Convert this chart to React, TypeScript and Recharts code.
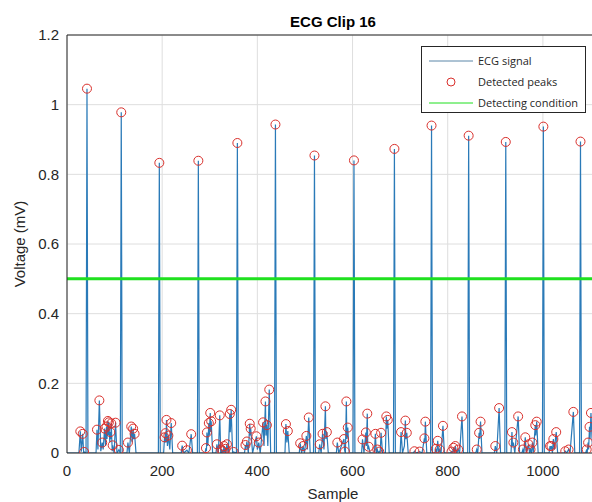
import {
  ComposedChart,
  Line,
  Scatter,
  XAxis,
  YAxis,
  CartesianGrid,
  ReferenceLine,
  Legend,
} from "recharts"

// ECG samples as [sample, voltage] (baseline points included)
const signalPoints: [number, number][] = [
  [0, 0], [25, 0], [28, 0.062], [30, 0.004], [33, 0.055], [35, 0], [36, 0.003], [40, 0], [42, 1.046], [44, 0],
  [61, 0], [63, 0.067], [65, 0.01], [68, 0.151], [71, 0.005], [74, 0.03], [76, 0.01], [79, 0.07], [81, 0.02],
  [83, 0.076], [84, 0.04], [86, 0.092], [87, 0.05], [88, 0.088], [90, 0.03], [91, 0.06], [92, 0.04], [93, 0.085],
  [95, 0.005], [96, 0.022], [99, 0], [102, 0.087], [105, 0], [109, 0.009], [112, 0], [114, 0.978], [116, 0],
  [126, 0], [128, 0.03], [131, 0], [135, 0.076], [137, 0.03], [139, 0.07], [140, 0.04], [142, 0.055], [145, 0],
  [192, 0], [194, 0.833], [196, 0], [203, 0], [205, 0.045], [206, 0.03], [207, 0.057], [208, 0.03], [209, 0.095],
  [211, 0.02], [213, 0.05], [216, 0.01], [219, 0.086], [222, 0], [240, 0], [242, 0.021], [245, 0], [252, 0.008],
  [256, 0], [261, 0.054], [264, 0], [274, 0], [276, 0.839], [278, 0], [290, 0], [292, 0.014], [293, 0.005],
  [294, 0.059], [296, 0.02], [298, 0.086], [299, 0.05], [301, 0.115], [302, 0.06], [303, 0.091], [306, 0],
  [313, 0], [315, 0.025], [318, 0], [321, 0.108], [323, 0], [324, 0.01], [326, 0], [327, 0.005], [328, 0],
  [330, 0.02], [331, 0], [333, 0.012], [334, 0], [336, 0.025], [339, 0], [342, 0.112], [343, 0.06], [345, 0.124],
  [348, 0], [350, 0.003], [356, 0], [358, 0.89], [360, 0], [373, 0], [375, 0.023], [376, 0.01], [378, 0.033],
  [381, 0], [384, 0.084], [385, 0.05], [386, 0.07], [390, 0], [398, 0.048], [400, 0.01], [403, 0.03], [406, 0],
  [412, 0.088], [414, 0.02], [417, 0.148], [418, 0.05], [420, 0.08], [422, 0.02], [425, 0.182], [428, 0],
  [436, 0], [438, 0.943], [440, 0], [458, 0], [460, 0.083], [462, 0.03], [464, 0.063], [467, 0], [488, 0],
  [490, 0.028], [493, 0], [496, 0.02], [499, 0], [503, 0.049], [505, 0.01], [508, 0.102], [511, 0], [518, 0],
  [520, 0.854], [522, 0], [529, 0], [531, 0.025], [534, 0], [537, 0.055], [540, 0.01], [543, 0.134], [544, 0.04],
  [546, 0.06], [549, 0], [566, 0], [568, 0.03], [571, 0], [582, 0.04], [583, 0.01], [584, 0.004], [585, 0],
  [587, 0.148], [588, 0.04], [590, 0.073], [593, 0], [601, 0], [603, 0.84], [605, 0], [619, 0], [621, 0.039],
  [624, 0], [628, 0.059], [629, 0.02], [631, 0.113], [632, 0.01], [634, 0.018], [637, 0], [646, 0], [648, 0.055],
  [650, 0], [652, 0.01], [654, 0], [656, 0.004], [658, 0], [660, 0.058], [663, 0], [669, 0], [671, 0.105],
  [672, 0.07], [674, 0.095], [677, 0], [686, 0], [688, 0.873], [690, 0], [700, 0], [702, 0.06], [705, 0],
  [709, 0.02], [711, 0.093], [712, 0.04], [714, 0.058], [717, 0], [728, 0], [730, 0.005], [734, 0], [741, 0.004],
  [746, 0], [751, 0.042], [752, 0.03], [753, 0.09], [756, 0], [764, 0], [766, 0.94], [768, 0], [773, 0],
  [775, 0.012], [777, 0], [779, 0.035], [781, 0], [783, 0.01], [786, 0], [790, 0.078], [793, 0], [806, 0],
  [808, 0.004], [810, 0], [812, 0.015], [814, 0], [816, 0.02], [819, 0], [822, 0.01], [825, 0], [830, 0.105],
  [833, 0], [842, 0], [844, 0.911], [846, 0], [859, 0], [861, 0.01], [863, 0], [866, 0.058], [867, 0.04],
  [869, 0.09], [872, 0], [898, 0], [900, 0.02], [903, 0], [908, 0.129], [911, 0], [920, 0], [922, 0.893],
  [924, 0], [933, 0], [935, 0.06], [936, 0.02], [938, 0.03], [941, 0], [948, 0.105], [951, 0], [956, 0],
  [958, 0.01], [960, 0], [963, 0.045], [965, 0], [970, 0.025], [972, 0], [974, 0.01], [976, 0], [978, 0.03],
  [980, 0], [984, 0.08], [985, 0.05], [987, 0.09], [990, 0], [999, 0], [1001, 0.937], [1003, 0], [1013, 0],
  [1015, 0.02], [1016, 0.01], [1018, 0.02], [1020, 0], [1022, 0.04], [1024, 0.01], [1028, 0.06], [1031, 0],
  [1045, 0], [1047, 0.005], [1050, 0], [1054, 0.01], [1057, 0], [1064, 0.118], [1067, 0], [1077, 0],
  [1079, 0.894], [1081, 0], [1090, 0], [1092, 0.01], [1093, 0], [1095, 0.03], [1096, 0.01], [1098, 0.075],
  [1099, 0.04], [1101, 0.115], [1104, 0.02], [1110, 0],
]

// samples marked with a red circle
const peakSamples = [
  28, 33, 36, 42, 63, 68, 74, 79, 83, 86, 88, 91, 93, 96, 102, 109, 114, 128, 135, 139, 142, 194, 205, 207, 209,
  213, 219, 242, 252, 261, 276, 292, 294, 298, 301, 303, 315, 321, 324, 327, 330, 333, 336, 342, 345, 350, 358,
  375, 378, 384, 386, 398, 403, 412, 417, 420, 425, 438, 460, 464, 490, 496, 503, 508, 520, 531, 537, 543, 546,
  568, 582, 584, 587, 590, 603, 621, 628, 631, 634, 648, 652, 656, 660, 671, 674, 688, 702, 711, 714, 730, 741,
  751, 753, 766, 775, 779, 783, 790, 808, 812, 816, 822, 830, 844, 861, 866, 869, 900, 908, 922, 935, 938, 948,
  958, 963, 970, 974, 978, 984, 987, 1001, 1015, 1018, 1022, 1028, 1047, 1054, 1064, 1079, 1092, 1095, 1098, 1101,
]

const threshold = 0.5
const xTicks = [0, 200, 400, 600, 800, 1000]
const yTicks = [0, 0.2, 0.4, 0.6, 0.8, 1, 1.2]
const legendLabels = ["ECG signal", "Detected peaks", "Detecting condition"]

const signalData = signalPoints.map(([x, y]) => ({ x, y }))
const level = new Map(signalPoints)
const peakData = peakSamples.filter((s) => level.has(s)).map((s) => ({ x: s, y: level.get(s) }))

const font = "'Liberation Sans', Arial, Helvetica, sans-serif"
const ink = "#262626"
const blue = "#2a7ab8"
const red = "#d9302c"
const green = "#1fe01f"

function PeakMarker(props: any) {
  const { cx, cy } = props
  if (cx == null || cy == null) return null
  return <circle cx={cx} cy={cy} r={4.5} fill="none" stroke={red} strokeWidth={1} />
}

function LegendBox() {
  const rows = [14, 35, 56]
  return (
    <div style={{ width: 165, height: 67, border: "1px solid #262626", background: "#fff", boxSizing: "border-box" }}>
      <svg width={163} height={65} style={{ display: "block" }}>
        <line x1={7} x2={51} y1={rows[0]} y2={rows[0]} stroke="#5a86a8" strokeWidth={1} />
        <circle cx={29} cy={rows[1]} r={4} fill="none" stroke={red} strokeWidth={1} />
        <line x1={7} x2={51} y1={rows[2]} y2={rows[2]} stroke={green} strokeWidth={1} />
        {legendLabels.map((label, i) => (
          <text key={label} x={56} y={rows[i] + 4} fontSize={11} fontFamily="'Open Sans', sans-serif" fill={ink}>
            {label}
          </text>
        ))}
      </svg>
    </div>
  )
}

export default function App() {
  return (
    <div style={{ position: "fixed", left: 0, top: 0, width: 592, height: 502, overflow: "hidden", background: "#fff" }}>
      <ComposedChart width={600} height={502} margin={{ top: 35, right: 0, bottom: 19, left: 0 }}>
        <CartesianGrid stroke="#dedede" horizontalValues={yTicks} verticalValues={xTicks} />
        <XAxis
          type="number"
          dataKey="x"
          domain={[0, 1120]}
          ticks={xTicks}
          allowDataOverflow
          height={30}
          tickLine={false}
          tickMargin={6}
          axisLine={{ stroke: ink }}
          tick={{ fill: ink, fontSize: 15, fontFamily: font }}
        />
        <YAxis
          type="number"
          domain={[0, 1.2]}
          ticks={yTicks}
          allowDataOverflow
          width={67}
          tickLine={false}
          axisLine={{ stroke: ink }}
          tick={{ fill: ink, fontSize: 15, fontFamily: font }}
        />
        <ReferenceLine y={1.2} stroke={ink} strokeWidth={1} />
        <Line
          data={signalData}
          dataKey="y"
          type="linear"
          stroke={blue}
          strokeWidth={1.2}
          dot={false}
          activeDot={false}
          isAnimationActive={false}
        />
        <ReferenceLine y={threshold} stroke={green} strokeWidth={3} />
        <Scatter data={peakData} dataKey="y" shape={PeakMarker} isAnimationActive={false} />
        <Legend
          layout="vertical"
          align="center"
          verticalAlign="middle"
          content={() => <LegendBox />}
          wrapperStyle={{ position: "absolute", left: 421, top: 46, width: 165, height: 67 }}
        />
        <text x={333} y={27} textAnchor="middle" fontSize={15} fontWeight="bold" fontFamily={font} fill="#000">
          ECG Clip 16
        </text>
        <text x={333} y={499} textAnchor="middle" fontSize={15} fontFamily={font} fill={ink}>
          Sample
        </text>
        <text x={0} y={0} transform="translate(25, 244) rotate(-90)" textAnchor="middle" fontSize={15} fontFamily={font} fill={ink}>
          Voltage (mV)
        </text>
      </ComposedChart>
    </div>
  )
}
